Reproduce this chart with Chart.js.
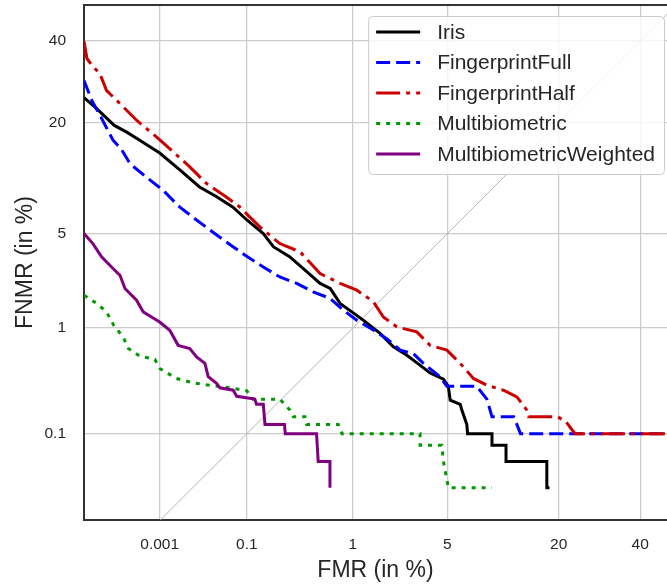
<!DOCTYPE html>
<html>
<head>
<meta charset="utf-8">
<script src="https://cdn.jsdelivr.net/npm/chart.js@4.4.1/dist/chart.umd.min.js"></script>
<style>
  body { margin: 0; background: #fff; }
  #wrap { width: 667px; height: 584px; }
</style>
</head>
<body>
<div id="wrap"><canvas id="detChart" width="667" height="584"></canvas></div>
<script>
// DET curves, values in percent
const xTicks = [0.01, 0.1, 1, 5, 20, 40];
const xTickLabels = ['0.001', '0.1', '1', '5', '20', '40'];
const yTicks = [0.1, 1, 5, 20, 40];
const yTickLabels = ['0.1', '1', '5', '20', '40'];

const irisFmr = [0.001, 0.0015, 0.0026, 0.0038, 0.0056, 0.01, 0.0176, 0.03, 0.047, 0.071, 0.1, 0.148, 0.187, 0.27, 0.39, 0.52, 0.64, 0.78, 1.22, 1.66, 2.1, 2.64, 2.94, 3.85, 4.72, 5.08, 5.22, 6.04, 6.18, 6.63, 6.7, 9.3, 9.3, 11.1, 11.1, 17.7, 17.7, 18.2];
const irisFnmr = [25.4, 22.9, 19.4, 18.1, 16.6, 14.4, 11.8, 9.55, 8.4, 7.3, 6.1, 5.0, 4.1, 3.5, 2.76, 2.25, 2.06, 1.58, 1.16, 0.9, 0.69, 0.58, 0.525, 0.4, 0.35, 0.3, 0.22, 0.2, 0.175, 0.125, 0.1, 0.1, 0.075, 0.075, 0.05, 0.05, 0.025, 0.025];

const fullFmr = [0.001, 0.00128, 0.00166, 0.0025, 0.0032, 0.0042, 0.0068, 0.011, 0.0176, 0.0277, 0.047, 0.071, 0.095, 0.148, 0.217, 0.316, 0.45, 0.64, 0.83, 1.08, 1.47, 1.87, 2.36, 2.94, 3.46, 4.49, 4.97, 7.6, 8.7, 9.3, 12.2, 12.65, 13.2, 50];
const fullFnmr = [29.5, 24.8, 21.5, 16.6, 15.1, 12.7, 10.8, 9.15, 7.3, 6.1, 4.9, 4.1, 3.6, 2.96, 2.51, 2.25, 1.94, 1.73, 1.4, 1.16, 0.96, 0.81, 0.645, 0.6, 0.49, 0.37, 0.3, 0.3, 0.225, 0.15, 0.15, 0.125, 0.1, 0.1];

const halfFmr = [0.001, 0.0011, 0.00133, 0.00166, 0.00204, 0.0031, 0.0051, 0.0091, 0.0146, 0.0231, 0.0361, 0.06, 0.084, 0.137, 0.217, 0.34, 0.52, 0.78, 1.08, 1.47, 1.76, 2.23, 3.11, 3.85, 4.97, 6.04, 7.27, 8.7, 10.75, 12.65, 14.2, 14.5, 19.7, 21.4, 22.8, 23.5, 50];
const halfFnmr = [39.9, 35.2, 33.1, 31.2, 27.1, 24.0, 20.45, 17.2, 14.6, 12.25, 9.97, 8.38, 7.32, 5.51, 4.3, 3.78, 2.66, 2.25, 2.0, 1.63, 1.23, 1.02, 0.926, 0.71, 0.645, 0.49, 0.356, 0.307, 0.275, 0.237, 0.175, 0.15, 0.15, 0.135, 0.11, 0.1, 0.1];

const multiFmr = [0.001, 0.0015, 0.00204, 0.00256, 0.0034, 0.004, 0.0056, 0.0087, 0.01, 0.016, 0.0253, 0.0394, 0.0657, 0.0995, 0.116, 0.217, 0.272, 0.293, 0.378, 0.392, 0.753, 0.81, 3.28, 3.28, 4.61, 4.72, 5.08, 9.3];
const multiFnmr = [1.83, 1.58, 1.355, 1.05, 0.84, 0.666, 0.57, 0.535, 0.44, 0.356, 0.323, 0.307, 0.29, 0.272, 0.225, 0.225, 0.175, 0.15, 0.15, 0.125, 0.125, 0.1, 0.1, 0.075, 0.075, 0.05, 0.025, 0.025];

const weightedFmr = [0.001, 0.00133, 0.00175, 0.0025, 0.0031, 0.0036, 0.0051, 0.0062, 0.0079, 0.01, 0.0133, 0.0168, 0.0231, 0.0277, 0.0346, 0.0377, 0.0468, 0.051, 0.0714, 0.078, 0.121, 0.126, 0.148, 0.154, 0.241, 0.245, 0.483, 0.49, 0.5, 0.637, 0.637];
const weightedFnmr = [5.01, 4.3, 3.49, 2.89, 2.58, 2.06, 1.675, 1.355, 1.23, 1.12, 0.956, 0.71, 0.666, 0.56, 0.49, 0.37, 0.32, 0.29, 0.275, 0.24, 0.225, 0.2, 0.2, 0.125, 0.125, 0.1, 0.1, 0.075, 0.05, 0.05, 0.025];

const diagFmr = [0.01, 50];
const diagFnmr = [0.01, 50];

// inverse normal cdf (Acklam)
function ppf(p) {
    const a = [-3.969683028665376e+01, 2.209460984245205e+02, -2.759285104469687e+02, 1.383577518672690e+02, -3.066479806614716e+01, 2.506628277459239e+00];
    const b = [-5.447609879822406e+01, 1.615858368580409e+02, -1.556989798598866e+02, 6.680131188771972e+01, -1.328068155288572e+01];
    const c = [-7.784894002430293e-03, -3.223964580411365e-01, -2.400758277161838e+00, -2.549732539343734e+00, 4.374664141464968e+00, 2.938163982698783e+00];
    const d = [7.784695709041462e-03, 3.224671290700398e-01, 2.445134137142996e+00, 3.754408661907416e+00];
    const pl = 0.02425;
    let q, r;
    if (p < pl) {
        q = Math.sqrt(-2 * Math.log(p));
        return (((((c[0] * q + c[1]) * q + c[2]) * q + c[3]) * q + c[4]) * q + c[5]) / ((((d[0] * q + d[1]) * q + d[2]) * q + d[3]) * q + 1);
    }
    if (p > 1 - pl) {
        q = Math.sqrt(-2 * Math.log(1 - p));
        return -(((((c[0] * q + c[1]) * q + c[2]) * q + c[3]) * q + c[4]) * q + c[5]) / ((((d[0] * q + d[1]) * q + d[2]) * q + d[3]) * q + 1);
    }
    q = p - 0.5;
    r = q * q;
    return (((((a[0] * r + a[1]) * r + a[2]) * r + a[3]) * r + a[4]) * r + a[5]) * q / (((((b[0] * r + b[1]) * r + b[2]) * r + b[3]) * r + b[4]) * r + 1);
}

function cdf(z) {
    const t = 1 / (1 + 0.2316419 * Math.abs(z));
    const poly = t * (0.319381530 + t * (-0.356563782 + t * (1.781477937 + t * (-1.821255978 + t * 1.330274429))));
    const v = 1 - Math.exp(-z * z / 2) / Math.sqrt(2 * Math.PI) * poly;
    return z >= 0 ? v : 1 - v;
}

// normal deviate axis, values given in percent
class ProbitScale extends Chart.Scale {
    determineDataLimits() {
        this.min = this.options.min;
        this.max = this.options.max;
    }
    buildTicks() {
        return this.options.tickValues.map(v => ({ value: v }));
    }
    configure() {
        super.configure();
        this._startValue = ppf(this.min / 100);
        this._valueRange = ppf(this.max / 100) - this._startValue;
    }
    getLabelForValue(value) {
        return String(value);
    }
    getPixelForValue(value) {
        if (value === undefined || value === null || isNaN(value)) return NaN;
        return this.getPixelForDecimal((ppf(value / 100) - this._startValue) / this._valueRange);
    }
    getValueForPixel(pixel) {
        const dec = this.getDecimalForPixel(pixel);
        return cdf(this._startValue + dec * this._valueRange) * 100;
    }
}
ProbitScale.id = 'probit';
ProbitScale.defaults = {};
Chart.register(ProbitScale);

function points(xs, ys) {
    return xs.map((x, i) => ({ x: x, y: ys[i] }));
}

const fontFamily = '"Liberation Sans", Arial, sans-serif';

const topSpine = {
    id: 'topSpine',
    afterDraw(chart) {
        const { ctx, chartArea } = chart;
        ctx.save();
        ctx.strokeStyle = '#333333';
        ctx.lineWidth = 2;
        ctx.beginPath();
        ctx.moveTo(chartArea.left - 1, chartArea.top);
        ctx.lineTo(chartArea.right, chartArea.top);
        ctx.stroke();
        ctx.restore();
    }
};

const insideLegend = {
    id: 'insideLegend',
    afterDraw(chart) {
        const { ctx, chartArea } = chart;
        const items = chart.data.datasets.filter(ds => ds.label);
        ctx.save();
        ctx.font = '21px ' + fontFamily;
        let maxW = 0;
        items.forEach(ds => { maxW = Math.max(maxW, ctx.measureText(ds.label).width); });
        const right = chartArea.right - 3;
        const top = chartArea.top + 11;
        const w = 8 + 44 + 17 + maxW + 9;
        const h = 158;
        const left = right - w;
        ctx.beginPath();
        if (ctx.roundRect) ctx.roundRect(left + 0.5, top + 0.5, w, h, 4);
        else ctx.rect(left + 0.5, top + 0.5, w, h);
        ctx.fillStyle = 'rgba(255,255,255,0.8)';
        ctx.fill();
        ctx.strokeStyle = '#cccccc';
        ctx.lineWidth = 1;
        ctx.stroke();
        items.forEach((ds, i) => {
            const y = top + 16 + i * 30.5;
            ctx.beginPath();
            ctx.setLineDash(ds.borderDash || []);
            ctx.lineWidth = ds.borderWidth;
            ctx.strokeStyle = ds.borderColor;
            ctx.moveTo(left + 8, y);
            ctx.lineTo(left + 52, y);
            ctx.stroke();
            ctx.setLineDash([]);
            ctx.fillStyle = '#262626';
            ctx.textBaseline = 'middle';
            ctx.textAlign = 'left';
            ctx.fillText(ds.label, left + 69, y + 1);
        });
        ctx.restore();
    }
};

const ctx = document.getElementById('detChart').getContext('2d');
new Chart(ctx, {
    type: 'line',
    data: {
        datasets: [
            { label: 'Iris', data: points(irisFmr, irisFnmr), borderColor: '#000000', borderWidth: 3, order: 5 },
            { label: 'FingerprintFull', data: points(fullFmr, fullFnmr), borderColor: '#0000ff', borderWidth: 3, borderDash: [14, 6], order: 4 },
            { label: 'FingerprintHalf', data: points(halfFmr, halfFnmr), borderColor: '#cc0000', borderWidth: 3, borderDash: [24, 6, 4, 6], order: 3 },
            { label: 'Multibiometric', data: points(multiFmr, multiFnmr), borderColor: '#009900', borderWidth: 3, borderDash: [4, 6], order: 2 },
            { label: 'MultibiometricWeighted', data: points(weightedFmr, weightedFnmr), borderColor: '#800080', borderWidth: 3, order: 1 },
            { data: points(diagFmr, diagFnmr), borderColor: '#b5b5b5', borderWidth: 1, order: 6 }
        ]
    },
    options: {
        responsive: false,
        animation: false,
        layout: { padding: { top: 5, right: 0, left: 0, bottom: 0 } },
        elements: { point: { radius: 0 }, line: { tension: 0, fill: false } },
        plugins: { legend: { display: false }, tooltip: { enabled: false } },
        scales: {
            x: {
                type: 'probit',
                position: 'bottom',
                min: 0.001,
                max: 47.6,
                tickValues: xTicks,
                grid: { color: '#cccccc', lineWidth: 1.3, drawTicks: false },
                border: { display: true, color: '#333333', width: 2 },
                ticks: {
                    autoSkip: false, maxRotation: 0, padding: 15, color: '#262626',
                    font: { family: fontFamily, size: 15.5 },
                    callback: (v, i) => xTickLabels[i]
                },
                title: { display: true, text: 'FMR (in %)', color: '#262626', font: { family: fontFamily, size: 23 }, padding: 0 },
                afterFit: s => { s.height = 64; s.paddingLeft = 0; s.paddingRight = 0; }
            },
            y: {
                type: 'probit',
                position: 'left',
                min: 0.0102,
                max: 50.27,
                tickValues: yTicks,
                grid: { color: '#cccccc', lineWidth: 1.3, drawTicks: false },
                border: { display: true, color: '#333333', width: 2 },
                ticks: {
                    autoSkip: false, padding: 18, color: '#262626',
                    font: { family: fontFamily, size: 15.5 },
                    callback: (v, i) => yTickLabels[i]
                },
                title: { display: true, text: 'FNMR (in %)', color: '#262626', font: { family: fontFamily, size: 23 }, padding: { top: 12, bottom: 0 } },
                afterFit: s => { s.width = 84; s.paddingTop = 0; s.paddingBottom = 0; }
            }
        }
    },
    plugins: [topSpine, insideLegend]
});
</script>
</body>
</html>
